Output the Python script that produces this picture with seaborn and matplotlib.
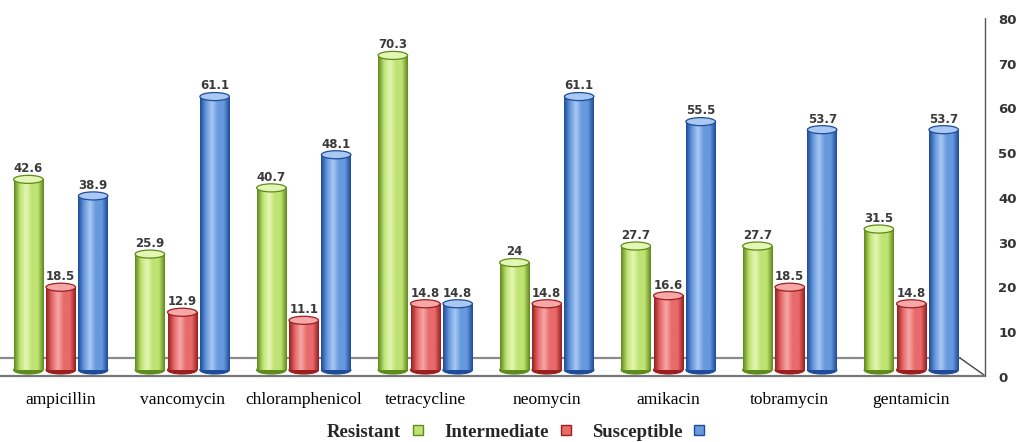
import numpy as np
import pandas as pd
import matplotlib
matplotlib.use("Agg")
import matplotlib.pyplot as plt
import matplotlib.transforms as mtransforms
from matplotlib.colors import LinearSegmentedColormap
from matplotlib.lines import Line2D
from matplotlib.patches import Ellipse, Rectangle
import seaborn as sns

# Antibiotic susceptibility (%) per drug
drugs = ["ampicillin", "vancomycin", "chloramphenicol", "tetracycline",
         "neomycin", "amikacin", "tobramycin", "gentamicin"]
resistant = [42.6, 25.9, 40.7, 70.3, 24, 27.7, 27.7, 31.5]
intermediate = [18.5, 12.9, 11.1, 14.8, 14.8, 16.6, 18.5, 14.8]
susceptible = [38.9, 61.1, 48.1, 14.8, 61.1, 55.5, 53.7, 53.7]
categories = ["Resistant", "Intermediate", "Susceptible"]
y_ticks = [0, 10, 20, 30, 40, 50, 60, 70, 80]

df = pd.DataFrame({
    "drug": drugs * 3,
    "status": [c for c in categories for _ in drugs],
    "value": resistant + intermediate + susceptible,
})

base = {"Resistant": "#bfe373", "Intermediate": "#e86a6a", "Susceptible": "#6699dd"}
dark = {"Resistant": "#5f8a1c", "Intermediate": "#9a1f1f", "Susceptible": "#1f4c99"}
light = {"Resistant": "#e4f6b4", "Intermediate": "#f6a8a8", "Susceptible": "#a9c8f2"}

sns.set_theme(style="white")
plt.rcParams["font.family"] = ["DejaVu Sans"]

W, H = 1023, 442
fig = plt.figure(figsize=(W / 100, H / 100), dpi=100)
ax = fig.add_axes([0.0, (H - 370) / H, 972 / W, (370 - 12) / H])
ax.patch.set_visible(False)

sns.barplot(data=df, x="drug", y="value", hue="status", hue_order=categories,
            palette=base, width=0.8, saturation=1, ax=ax, legend=False,
            edgecolor="none", zorder=3)

ax.set_xlim(-0.5, len(drugs) - 0.5)
ax.set_ylim(0, 80)

# cylinder shading: gradient clipped to each bar, plus elliptical caps
grad = np.linspace(0, 1, 64).reshape(1, -1)
gap = 0.012
for status, container in zip(categories, ax.containers):
    cmap = LinearSegmentedColormap.from_list(
        status, [dark[status], base[status], light[status], base[status], base[status],
                 dark[status]])
    for patch in container:
        x0, w, h = patch.get_x() + gap, patch.get_width() - 2 * gap, patch.get_height()
        patch.set_visible(False)
        xc = x0 + w / 2
        eh = 1.8
        bottom = Ellipse((xc, 0), w, eh, facecolor=dark[status], edgecolor=dark[status],
                         lw=0.8, zorder=2.5, clip_on=False)
        ax.add_patch(bottom)
        im = ax.imshow(grad, extent=[x0, x0 + w, 0, h], cmap=cmap, aspect="auto",
                       zorder=3.5, interpolation="bilinear", clip_on=False)
        clip = Rectangle((x0, 0), w, h, transform=ax.transData, visible=False)
        ax.add_patch(clip)
        im.set_clip_path(clip)
        top = Ellipse((xc, h), w, eh, facecolor=light[status], edgecolor=dark[status],
                      lw=0.9, zorder=4)
        top.set_clip_on(False)
        ax.add_patch(top)
    vals = [p.get_height() for p in container]
    ax.bar_label(container, labels=[f"{v:g}" for v in vals], padding=3,
                 fontsize=8.5, fontweight="bold", color="#3a3a3a", zorder=6)

ax.set_xlim(-0.5, len(drugs) - 0.5)
ax.set_ylim(0, 80)

# axis labels and ticks
ax.set_xlabel("")
ax.set_ylabel("")
ax.yaxis.tick_right()
ax.set_yticks(y_ticks)
ax.set_yticklabels([str(t) for t in y_ticks], fontsize=9.5, fontweight="bold", color="#333333")
ax.tick_params(axis="y", length=0, pad=19)
ax.tick_params(axis="x", length=0, pad=16)
ax.set_xticks(range(len(drugs)))
ax.set_xticklabels(drugs, family="Liberation Serif", fontsize=12.5, color="black")
offset = mtransforms.ScaledTranslation(0, -7 / 100, fig.dpi_scale_trans)
for lab in ax.get_yticklabels():
    lab.set_transform(lab.get_transform() + offset)
for s in ax.spines.values():
    s.set_visible(False)

# floor and right wall of the 3D frame
def px(x, y):
    return x / W, 1 - y / H

fig.add_artist(Line2D(*zip(px(0, 358), px(960, 358)), color="#8a8a8a", lw=1.6, zorder=-1))
fig.add_artist(Line2D(*zip(px(960, 358), px(984, 375)), color="#444444", lw=1.0, zorder=-1))
fig.add_artist(Line2D(*zip(px(0, 376), px(984, 376)), color="#777777", lw=1.6, zorder=5))
fig.add_artist(Line2D(*zip(px(985, 18), px(985, 376)), color="#555555", lw=1.0, zorder=5))

# legend: label text precedes its swatch
handles = [Line2D([], [], marker="s", linestyle="none", markersize=7,
                  markerfacecolor=base[c], markeredgecolor=dark[c]) for c in categories]
leg = fig.legend(handles, categories, loc="center", bbox_to_anchor=(517 / W, 1 - 432 / H),
                 ncol=3, frameon=False, markerfirst=False, handlelength=0.8,
                 handletextpad=0.5, columnspacing=1.0,
                 prop={"family": "Liberation Serif", "weight": "bold", "size": 13.5})

fig.savefig("out.png", dpi=100)
